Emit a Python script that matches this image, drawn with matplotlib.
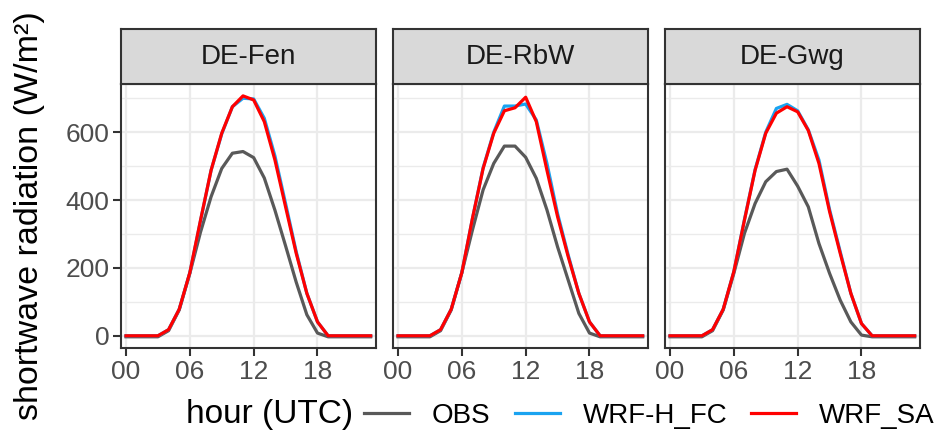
import matplotlib
matplotlib.use("Agg")
import matplotlib.pyplot as plt

plt.rcParams['font.family'] = ['Liberation Sans', 'DejaVu Sans']

# hora do dia (UTC)
horas = list(range(24))
estacoes = ["DE-Fen", "DE-RbW", "DE-Gwg"]

obs_fen = [-3, -3, -3, -3, 15, 76, 184, 305, 410, 493, 538, 543, 525, 465, 370, 265, 158, 62, 8, -3, -3, -3, -3, -3]
fc_fen = [0, 0, 0, 0, 18, 78, 186, 338, 488, 595, 675, 700, 698, 641, 530, 390, 248, 125, 41, 0, 0, 0, 0, 0]
sa_fen = [0, 0, 0, 0, 18, 78, 186, 340, 488, 597, 675, 707, 695, 631, 518, 380, 243, 125, 41, 0, 0, 0, 0, 0]

obs_rbw = [-3, -3, -3, -3, 15, 76, 186, 312, 430, 508, 559, 559, 526, 464, 371, 262, 164, 66, 8, -3, -3, -3, -3, -3]
fc_rbw = [0, 0, 0, 0, 18, 78, 186, 346, 495, 600, 677, 677, 683, 636, 508, 360, 238, 125, 41, 0, 0, 0, 0, 0]
sa_rbw = [0, 0, 0, 0, 18, 78, 186, 346, 493, 597, 663, 672, 703, 631, 488, 351, 233, 125, 41, 0, 0, 0, 0, 0]

obs_gwg = [-3, -3, -3, -3, 15, 76, 184, 302, 390, 454, 484, 491, 441, 380, 272, 184, 105, 41, 2, -3, -3, -3, -3, -3]
fc_gwg = [0, 0, 0, 0, 18, 78, 189, 343, 490, 600, 670, 682, 663, 607, 518, 372, 248, 125, 36, 0, 0, 0, 0, 0]
sa_gwg = [0, 0, 0, 0, 18, 78, 189, 341, 488, 597, 656, 675, 660, 605, 508, 366, 243, 125, 36, 0, 0, 0, 0, 0]

dados = [(obs_fen, fc_fen, sa_fen), (obs_rbw, fc_rbw, sa_rbw), (obs_gwg, fc_gwg, sa_gwg)]

xticks = [0, 6, 12, 18]
xlabels = ["00", "06", "12", "18"]
yticks = [0, 200, 400, 600]

cor_obs = "#595959"
cor_fc = "#1AA3F0"
cor_sa = "#FF0000"

W, H = 939, 433
fig = plt.figure(figsize=(W / 100, H / 100), dpi=100)

lefts = [121, 393, 665]
larg = 255
topo = 84
base = 348
strip_topo = 29

for i in range(3):
    x0 = lefts[i] / W
    ax = fig.add_axes([x0, (H - base) / H, larg / W, (base - topo) / H])
    obs, fc, sa = dados[i]
    ax.plot(horas, obs, color=cor_obs, lw=2.3, label="OBS", zorder=3)
    ax.plot(horas, fc, color=cor_fc, lw=2.3, label="WRF-H_FC", zorder=4)
    ax.plot(horas, sa, color=cor_sa, lw=2.3, label="WRF_SA", zorder=5)
    ax.set_xlim(-0.47, 23.5)
    ax.set_ylim(-36, 742)
    ax.set_xticks(xticks)
    ax.set_xticklabels(xlabels)
    ax.set_yticks(yticks)
    ax.set_yticks([100, 300, 500, 700], minor=True)
    ax.grid(which="major", color="#EBEBEB", lw=1.6, zorder=0)
    ax.grid(which="minor", axis="y", color="#EBEBEB", lw=1.0, zorder=0)
    ax.tick_params(which="minor", length=0)
    ax.tick_params(which="major", direction="out", length=6, width=1.5, color="#333333",
                   labelcolor="#4D4D4D", labelsize=19, pad=2.5)
    if i > 0:
        ax.tick_params(axis="y", labelleft=False, length=0)
    for s in ax.spines.values():
        s.set_color("#333333")
        s.set_linewidth(1.5)
    ax.set_axisbelow(True)

    # faixa do titulo
    st = fig.add_axes([x0, (H - topo) / H, larg / W, (topo - strip_topo) / H])
    st.set_facecolor("#D9D9D9")
    st.set_xticks([])
    st.set_yticks([])
    for s in st.spines.values():
        s.set_color("#333333")
        s.set_linewidth(1.5)
    st.text(0.5, 0.5, estacoes[i], ha="center", va="center", fontsize=20, color="#1A1A1A",
            transform=st.transAxes)

    if i == 0:
        handles, labels = ax.get_legend_handles_labels()

fig.text(30 / W, 1 - 216 / H, "shortwave radiation (W/m²)", rotation=90, ha="center", va="center",
         fontsize=24.5, color="black")
fig.text(270 / W, 1 - 415 / H, "hour (UTC)", ha="center", va="center", fontsize=24, color="black")

leg = fig.legend(handles, labels, loc="center left", bbox_to_anchor=(364 / W, 1 - 416 / H), ncol=3,
                 frameon=False, fontsize=20, handlelength=1.62, handletextpad=0.83, columnspacing=0.86,
                 borderpad=0, borderaxespad=0)

plt.savefig("out.png", dpi=100)
